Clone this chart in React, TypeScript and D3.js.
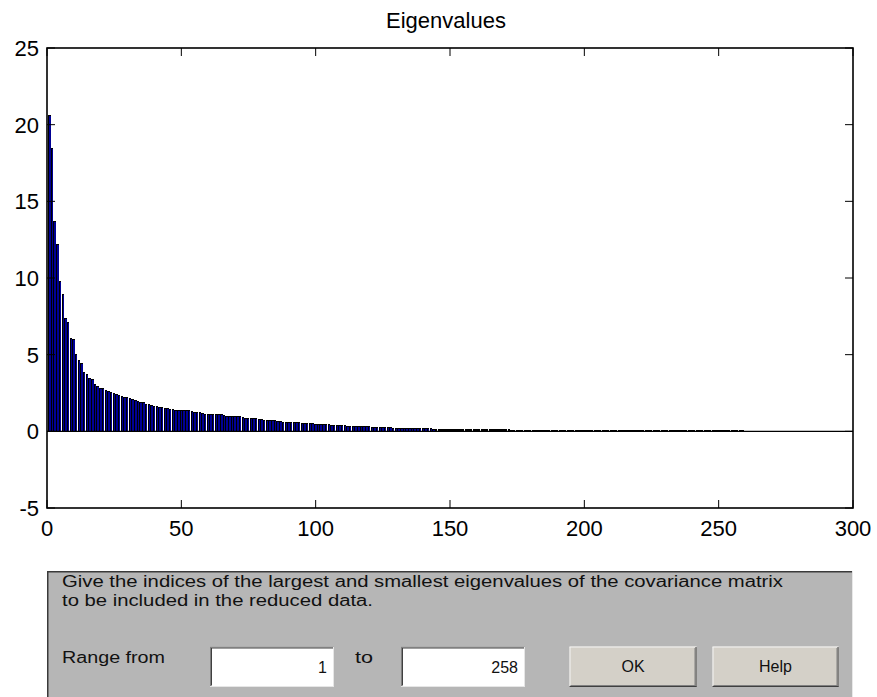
import React from "react";
import * as d3 from "d3";

const eigenvalues: number[] = [
  20.6, 18.5, 13.7, 12.2, 9.8, 8.95, 7.4, 7.1, 6.1, 6.0,
  5.05, 4.65, 4.45, 3.9, 3.77, 3.45, 3.4, 3.1, 2.97, 2.85,
  2.82, 2.7, 2.6, 2.55, 2.49, 2.45, 2.36, 2.3, 2.26, 2.24,
  2.2, 2.13, 2.05, 2.0, 1.93, 1.89, 1.8, 1.76, 1.72, 1.68,
  1.65, 1.61, 1.56, 1.52, 1.49, 1.45, 1.43, 1.41, 1.4, 1.4,
  1.39, 1.37, 1.36, 1.3, 1.26, 1.24, 1.23, 1.2, 1.15, 1.14,
  1.13, 1.12, 1.12, 1.11, 1.1, 1.05, 1.02, 1.01, 1.0, 0.99,
  0.98, 0.97, 0.93, 0.89, 0.88, 0.87, 0.86, 0.85, 0.8, 0.78,
  0.77, 0.76, 0.75, 0.74, 0.73, 0.67, 0.65, 0.64, 0.63, 0.63,
  0.62, 0.62, 0.61, 0.6, 0.57, 0.54, 0.53, 0.52, 0.52, 0.51,
  0.51, 0.5, 0.5, 0.49, 0.48, 0.44, 0.41, 0.4, 0.4, 0.39,
  0.39, 0.38, 0.38, 0.37, 0.37, 0.36, 0.36, 0.35, 0.35, 0.33,
  0.3, 0.28, 0.27, 0.26, 0.25, 0.25, 0.25, 0.25, 0.24, 0.24,
  0.24, 0.24, 0.24, 0.24, 0.23, 0.23, 0.23, 0.23, 0.23, 0.23,
  0.22, 0.22, 0.22, 0.18, 0.14, 0.13, 0.13, 0.13, 0.13, 0.13,
  0.13, 0.13, 0.13, 0.13, 0.12, 0.12, 0.12, 0.12, 0.12, 0.12,
  0.12, 0.12, 0.12, 0.12, 0.12, 0.12, 0.12, 0.12, 0.12, 0.12,
  0.12, 0.12, 0.11, 0.11, 0.11, 0.11, 0.11, 0.11, 0.11, 0.11,
  0.11, 0.11, 0.11, 0.11, 0.11, 0.11, 0.11, 0.11, 0.11, 0.11,
  0.11, 0.11, 0.11, 0.11, 0.11, 0.11, 0.11, 0.11, 0.11, 0.1,
  0.1, 0.1, 0.1, 0.1, 0.1, 0.1, 0.1, 0.1, 0.1, 0.1,
  0.1, 0.1, 0.1, 0.1, 0.1, 0.1, 0.1, 0.1, 0.1, 0.1,
  0.1, 0.1, 0.1, 0.1, 0.1, 0.1, 0.1, 0.1, 0.1, 0.09,
  0.09, 0.09, 0.09, 0.09, 0.09, 0.09, 0.09, 0.09, 0.09, 0.09,
  0.09, 0.09, 0.09, 0.09, 0.09, 0.09, 0.09, 0.09, 0.09, 0.09,
  0.09, 0.09, 0.09, 0.09, 0.09, 0.09, 0.09, 0.08, 0.08,
  0.02, 0.02, 0.02, 0.02, 0.02, 0.02, 0.02, 0.02, 0.02, 0.02,
  0.02, 0.02, 0.02, 0.02, 0.02, 0.02, 0.02, 0.02, 0.02, 0.02,
];

const xTicks: number[] = [0, 50, 100, 150, 200, 250, 300];
const yTicks: number[] = [-5, 0, 5, 10, 15, 20, 25];

const titleText = "Eigenvalues";
const promptLines: string[] = [
  "Give the indices of the largest and smallest eigenvalues of the covariance matrix",
  "to be included in the reduced data.",
];
const rangeLabel = "Range from";
const toLabel = "to";
const fromValue = "1";
const toValue = "258";
const buttonLabels: string[] = ["OK", "Help"];

const FONT = "'Liberation Sans', Arial, Helvetica, sans-serif";

export default function App() {
  const W = 877;
  const H = 697;
  const left = 47;
  const right = 853;
  const top = 48;
  const bottom = 508;

  const x = d3.scaleLinear().domain([0, 300]).range([left, right]);
  const y = d3.scaleLinear().domain([-5, 25]).range([bottom, top]);
  const halfW = 0.4;
  const tickLen = 8;

  const panelTop = 571;

  return (
    <svg
      width={W}
      height={H}
      style={{ position: "absolute", left: 0, top: 0, background: "#ffffff" }}
      fontFamily={FONT}
    >
      <rect x={0} y={0} width={W} height={H} fill="#ffffff" />
      {/* bars: black edge and navy face, snapped to pixels */}
      <g shapeRendering="crispEdges">
        {eigenvalues.map((v, i) => {
          const xi = i + 1;
          const y0 = y(0);
          const y1 = y(v);
          const xl = Math.round(x(xi - halfW) - 0.5);
          const xr = Math.round(x(xi + halfW) - 0.2);
          const yt = Math.round(Math.min(y0, y1));
          const hb = Math.max(1, Math.round(Math.abs(y0 - y1)));
          const wb = Math.max(2, xr - xl);
          return (
            <g key={i}>
              <rect x={xl} y={yt} width={wb} height={hb} fill="#000000" />
              {hb > 2 ? (
                <rect x={xl + 1} y={yt + 1} width={wb - 1} height={hb - 1} fill="#000094" />
              ) : null}
            </g>
          );
        })}
      </g>
      {/* baseline */}
      <line x1={left} x2={right} y1={y(0)} y2={y(0)} stroke="#000" strokeWidth={1.2} />
      {/* ticks */}
      {yTicks.map((t) => (
        <g key={"y" + t}>
          <line x1={left} x2={left + tickLen} y1={y(t)} y2={y(t)} stroke="#000" strokeWidth={1} />
          <line x1={right} x2={right - tickLen} y1={y(t)} y2={y(t)} stroke="#000" strokeWidth={1} />
          <text x={left - 8} y={y(t) + 8} textAnchor="end" fontSize={22} fill="#000">
            {t}
          </text>
        </g>
      ))}
      {xTicks.map((t) => (
        <g key={"x" + t}>
          <line x1={x(t)} x2={x(t)} y1={bottom} y2={bottom - tickLen} stroke="#000" strokeWidth={1} />
          <line x1={x(t)} x2={x(t)} y1={top} y2={top + tickLen} stroke="#000" strokeWidth={1} />
          <text x={x(t)} y={bottom + 28} textAnchor="middle" fontSize={22} fill="#000">
            {t}
          </text>
        </g>
      ))}
      {/* axes box */}
      <rect
        x={left}
        y={top}
        width={right - left}
        height={bottom - top}
        fill="none"
        stroke="#000"
        strokeWidth={1.6}
      />
      {/* title */}
      <text x={446} y={28} textAnchor="middle" fontSize={22} fill="#000">
        {titleText}
      </text>

      {/* bottom panel */}
      <rect x={left} y={panelTop} width={right - left} height={H - panelTop + 4} fill="#b6b6b6" />
      <line x1={left} x2={right} y1={panelTop + 0.75} y2={panelTop + 0.75} stroke="#3a3a3a" strokeWidth={1.5} />
      <line x1={left + 0.75} x2={left + 0.75} y1={panelTop} y2={H} stroke="#3a3a3a" strokeWidth={1.5} />
      <line x1={right - 0.5} x2={right - 0.5} y1={panelTop} y2={H} stroke="#e8e8e8" strokeWidth={1} />

      <text x={62} y={586.5} fontSize={16} fill="#111" textLength={721} lengthAdjust="spacingAndGlyphs">
        {promptLines[0]}
      </text>
      <text x={62} y={605.5} fontSize={16} fill="#111" textLength={311} lengthAdjust="spacingAndGlyphs">
        {promptLines[1]}
      </text>
      <text x={62} y={663} fontSize={16} fill="#111" textLength={103} lengthAdjust="spacingAndGlyphs">
        {rangeLabel}
      </text>
      <text x={355} y={663} fontSize={16} fill="#111" textLength={18} lengthAdjust="spacingAndGlyphs">
        {toLabel}
      </text>

      {/* edit boxes */}
      {[
        { x0: 210, x1: 334, val: fromValue },
        { x0: 401, x1: 525, val: toValue },
      ].map((b, i) => (
        <g key={"edit" + i}>
          <rect x={b.x0} y={646.5} width={b.x1 - b.x0} height={40} fill="#ffffff" />
          <line x1={b.x0} x2={b.x1} y1={647} y2={647} stroke="#808080" strokeWidth={1} />
          <line x1={b.x0 + 0.5} x2={b.x0 + 0.5} y1={647} y2={686.5} stroke="#808080" strokeWidth={1} />
          <line x1={b.x0 + 1} x2={b.x1 - 1} y1={648} y2={648} stroke="#404040" strokeWidth={1} />
          <line x1={b.x0 + 1.5} x2={b.x0 + 1.5} y1={648} y2={685.5} stroke="#404040" strokeWidth={1} />
          <line x1={b.x0} x2={b.x1} y1={686.5} y2={686.5} stroke="#e6e6e6" strokeWidth={1} />
          <line x1={b.x1 - 0.5} x2={b.x1 - 0.5} y1={647} y2={687} stroke="#e6e6e6" strokeWidth={1} />
          <text x={b.x1 - 7} y={672.5} textAnchor="end" fontSize={16} fill="#111">
            {b.val}
          </text>
        </g>
      ))}

      {/* buttons */}
      {[
        { x0: 569.5, x1: 696.5 },
        { x0: 712.5, x1: 838.5 },
      ].map((b, i) => (
        <g key={"btn" + i}>
          <rect x={b.x0} y={646.5} width={b.x1 - b.x0} height={40} fill="#d4d0c8" />
          <line x1={b.x0} x2={b.x1} y1={647} y2={647} stroke="#f4f4f4" strokeWidth={1} />
          <line x1={b.x0 + 0.5} x2={b.x0 + 0.5} y1={647} y2={686.5} stroke="#f4f4f4" strokeWidth={1} />
          <line x1={b.x0} x2={b.x1} y1={686.5} y2={686.5} stroke="#404040" strokeWidth={1} />
          <line x1={b.x1 - 0.5} x2={b.x1 - 0.5} y1={647} y2={687} stroke="#404040" strokeWidth={1} />
          <line x1={b.x0 + 1} x2={b.x1 - 1} y1={685.5} y2={685.5} stroke="#808080" strokeWidth={1} />
          <line x1={b.x1 - 1.5} x2={b.x1 - 1.5} y1={648} y2={686} stroke="#808080" strokeWidth={1} />
          <text x={(b.x0 + b.x1) / 2} y={672} textAnchor="middle" fontSize={16} fill="#111">
            {buttonLabels[i]}
          </text>
        </g>
      ))}
    </svg>
  );
}
